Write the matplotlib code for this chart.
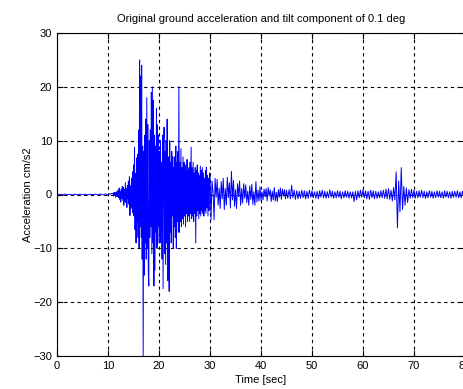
import numpy as np
import matplotlib
matplotlib.use("Agg")
import matplotlib.pyplot as plt

# quiet part before the arrival, 0 - 10.5 s every 0.5 s
t_quiet = np.arange(0.0, 11.0, 0.5)
a_quiet = [0.0, 0.05, -0.05, 0.08, -0.06, 0.05, -0.08, 0.06, -0.05, 0.07, -0.06,
           0.05, -0.07, 0.06, -0.05, 0.08, -0.07, 0.1, -0.08, 0.12, -0.1, 0.15]

# strong motion, 11.0 - 29.9 s every 0.1 s
t_strong = np.arange(11.0, 30.0, 0.1)
a_strong = [
    0.2, -0.3, 0.4, -0.2, 0.3, -0.5, 0.4, -0.3, 0.6, -0.4,
    0.8, -0.6, 1.2, -0.9, 0.5, -1.4, 1.0, -0.7, 1.5, -1.1,
    1.3, -2.0, 0.9, -1.2, 2.2, -1.5, 1.1, -2.4, 1.7, -0.8,
    2.5, -1.8, 3.3, -3.9, 1.6, -2.6, 3.0, -2.2, 4.2, -3.4,
    5.5, -4.0, 8.8, -6.5, 3.9, -9.0, 6.8, -5.2, 7.5, -8.0,
    12.0, -10.0, 25.0, -6.0, 22.0, -8.0, 24.0, -12.0, 9.0, -30.0,
    8.0, -15.0, 11.0, -9.0, 14.0, -12.0, 18.0, -10.0, 13.0, -14.0,
    -17.0, 10.0, -8.0, 12.0, -6.0, 19.0, -11.0, 20.0, -9.0, 17.5,
    -17.0, 11.0, -14.0, 9.0, -7.0, 16.0, -10.0, 13.0, -9.0, 11.0,
    -6.0, 8.0, -9.0, 10.0, -7.0, 6.0, -12.0, 11.0, -17.5, 9.0,
    12.5, -11.0, 8.0, -13.0, 10.0, -9.0, 14.0, -16.0, 7.0, -10.0,
    -18.0, 10.0, -7.0, 6.0, -9.0, 8.0, -4.0, 7.0, -10.0, 5.0,
    -6.0, 7.0, -8.0, 9.0, -10.0, 6.0, -5.0, 8.0, -7.0, 20.0,
    -7.0, 6.0, -5.0, 8.5, -6.0, 5.0, -4.5, 7.0, -5.5, 6.0,
    -4.0, 5.5, -6.0, 4.0, -3.5, 6.5, -5.0, 4.5, -4.0, 5.0,
    -5.0, 6.0, -3.5, 8.8, -4.5, 5.0, -4.0, 6.0, -5.0, 4.0,
    -3.5, 5.0, -9.0, 4.5, -4.0, 5.5, -3.0, 4.0, -4.5, 3.5,
    -3.5, 5.3, -4.0, 4.5, -3.0, 5.0, -3.5, 4.0, -4.0, 3.0,
    -3.0, 4.5, -3.5, 5.0, -2.5, 3.5, -4.0, 3.0, -3.0, 4.0,
]

# early coda, 30.0 - 44.8 s every 0.2 s
t_coda = np.arange(30.0, 45.0, 0.2)
a_coda = [
    3.7, -4.7, 2.5, 0.4, -4.7,
    3.0, -0.5, 2.8, -2.0, 1.2,
    -2.6, 2.4, -0.8, 3.0, -2.8,
    1.1, -2.0, 3.2, -0.6, 2.2,
    -2.5, 4.3, -1.0, 2.6, -2.2,
    0.9, -2.6, 2.0, -0.4, 2.5,
    -2.0, 1.1, -1.6, 2.0, -0.7,
    1.8, -1.5, 0.6, -2.0, 1.6,
    -0.9, 1.9, -1.8, 0.5, -2.0,
    2.4, -1.4, 0.8, -1.2, 1.4,
    -1.1, 0.5, -1.0, 1.0, -0.4,
    1.1, -1.2, 1.3, -0.3, 0.9,
    -1.3, 0.6, -1.0, 1.3, -1.2,
    0.4, -1.3, 0.9, -0.5, 1.2,
    -0.9, 1.0, -0.3, 0.9, -0.8,
]

# late record, 45.0 - 79.75 s every 0.25 s
t_late = np.arange(45.0, 80.0, 0.25)
a_late = [
    0.8, -0.7, 0.9, -0.8,  1.7, -0.6, 0.8, -0.9,  0.7, -0.8, 0.6, -0.7,
    0.8, -0.6, 0.7, -0.8,  0.6, -0.7, 0.8, -0.5,  0.7, -0.6, 0.5, -0.7,
    0.6, -0.8, 0.7, -0.5,  0.8, -0.6, 0.6, -0.7,  0.5, -0.6, 0.9, -0.5,
    0.6, -0.7, 0.5, -0.6,  0.7, -0.5, 0.6, -0.8,  0.5, -0.6, 0.7, -0.5,
    0.6, -0.7, 0.5, -0.6,  0.5, -1.3, 0.6, -1.0,  0.7, -0.6, 0.8, -0.5,
    0.9, -0.6, 0.7, -0.8,  0.6, -0.9, 0.8, -0.6,  0.7, -0.8, 0.6, -0.7,
    0.5, -0.6, 0.7, -0.6,  0.8, -0.7, 1.0, -0.8,  1.1, -0.9, 0.8, -1.2,
    1.3, -1.0, 4.2, -6.2,  2.5, -3.2, 5.0, -2.8,  1.5, -2.0, 1.2, -1.5,
    0.9, -0.7, 1.0, -0.6,  0.8, -0.7, 0.6, -0.6,  0.7, -0.5, 0.8, -0.6,
    0.6, -0.7, 0.5, -0.6,  0.7, -0.5, 0.6, -0.7,  0.5, -0.6, 0.7, -0.5,
    0.6, -0.6, 0.5, -0.7,  0.7, -0.5, 0.6, -0.6,  0.5, -0.7, 0.6, -0.5,
    0.6, -0.5, 0.7, -0.6,  0.5, -0.6, 0.6, -0.5,
]

t = np.concatenate((t_quiet, t_strong, t_coda, t_late))
acc = np.concatenate((a_quiet, a_strong, a_coda, a_late))

plt.rcParams['font.family'] = ['Liberation Sans', 'DejaVu Sans']

fig = plt.figure(figsize=(4.64, 3.89), dpi=100)
ax = fig.add_axes([57/464, 33/389, 408/464, 323/389])

ax.plot(t, acc, color="#0000ff", lw=0.7)

ax.set_xlim(0, 80)
ax.set_ylim(-30, 30)
ax.set_xticks(np.arange(0, 81, 10))
ax.set_yticks(np.arange(-30, 31, 10))
ax.grid(True, ls=(0, (3, 3)), color="black", lw=0.8)
ax.tick_params(direction="in", top=True, right=True, length=4, labelsize=8)
for s in ax.spines.values():
    s.set_linewidth(0.8)

ax.set_title("Original ground acceleration and tilt component of 0.1 deg", fontsize=8, pad=8)
ax.set_xlabel("Time [sec]", fontsize=8, labelpad=3)
ax.set_ylabel("Acceleration cm/s2", fontsize=8, labelpad=0)

plt.savefig("out.png", dpi=100)
